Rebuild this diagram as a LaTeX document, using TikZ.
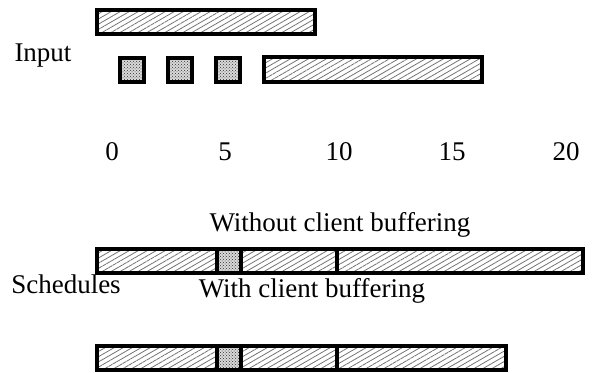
\documentclass[tikz,border=0pt]{standalone}
\usepackage{fontspec}
\setmainfont{Liberation Serif}
\usetikzlibrary{patterns,patterns.meta}

\tikzset{
  hatchbox/.style={pattern={Lines[angle=30,distance=4.5pt,line width=0.8pt]},pattern color=black!55},
  dotbase/.style={fill=gray!30},
  dotbox/.style={pattern=crosshatch dots,pattern color=black!80},
  frame/.style={draw=black,line width=3.5pt},
  lbl/.style={anchor=center,inner sep=0pt,font=\fontsize{27}{32}\selectfont}
}

\begin{document}
\begin{tikzpicture}[x=1pt, y=-1pt, line join=miter]

  %% ==== input row (top) ====
  \fill[hatchbox] (97,10) rectangle (315,34);
  \draw[frame] (97,10) rectangle (315,34);

  %% small squares at 1, 3, 5
  \foreach \xa in {120,168,216}{
    \fill[dotbase] (\xa,58) rectangle ({\xa+24},82);
    \fill[dotbox] (\xa,58) rectangle ({\xa+24},82);
    \draw[frame] (\xa,58) rectangle ({\xa+24},82);
  }
  \fill[hatchbox] (264,57) rectangle (482,82);
  \draw[frame] (264,57) rectangle (482,82);

  %% ==== schedules ====
  % without client buffering
  \fill[hatchbox] (97,249) rectangle (583,273);
  \fill[dotbase] (217,249) rectangle (241,273);
  \fill[dotbox] (217,249) rectangle (241,273);
  \draw[frame] (97,249) rectangle (583,273);
  \draw[frame] (217,249) -- (217,273) (241,249) -- (241,273) (337,249) -- (337,273);

  % with client buffering
  \fill[hatchbox] (97,346) rectangle (506,370);
  \fill[dotbase] (217,346) rectangle (241,370);
  \fill[dotbox] (217,346) rectangle (241,370);
  \draw[frame] (97,346) rectangle (506,370);
  \draw[frame] (217,346) -- (217,370) (241,346) -- (241,370) (337,346) -- (337,370);

  %% ==== labels ====
  \node[lbl] (input) at (43,56) {Input};
  \node[lbl] (sched) at (66,284) {Schedules};
  \node[lbl] (without) at (340,225) {Without client buffering};
  \node[lbl] (with) at (312,291) {With client buffering};

  %% axis ticks 0..20
  \foreach \v/\xv in {0/112,5/225,10/339,15/452,20/566}
    \node[lbl] (tick\v) at (\xv,152) {\v};

  \pgfresetboundingbox
  \path[use as bounding box] (0,0) rectangle (594,372);
\end{tikzpicture}
\end{document}
